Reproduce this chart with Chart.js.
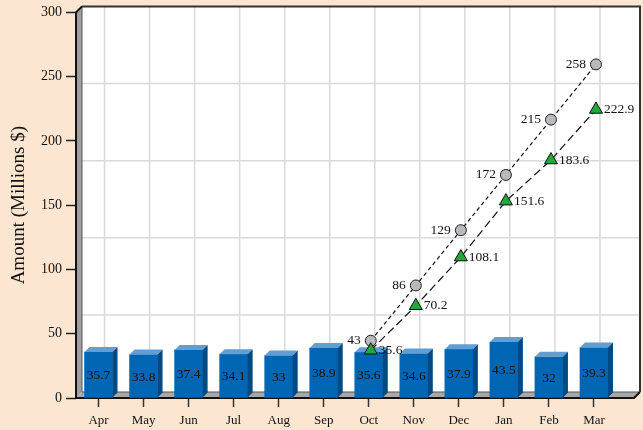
<!DOCTYPE html>
<html>
<head>
<meta charset="utf-8">
<script src="https://cdn.jsdelivr.net/npm/chart.js@4.4.1/dist/chart.umd.min.js"></script>
<style>
  html, body { margin: 0; padding: 0; background: #fde6d1; }
  #wrap { width: 643px; height: 430px; }
</style>
</head>
<body>
<div id="wrap"><canvas id="chart" width="643" height="430"></canvas></div>
<script>
const months = ['Apr', 'May', 'Jun', 'Jul', 'Aug', 'Sep', 'Oct', 'Nov', 'Dec', 'Jan', 'Feb', 'Mar'];
const monthlyAmounts = [35.7, 33.8, 37.4, 34.1, 33, 38.9, 35.6, 34.6, 37.9, 43.5, 32, 39.3];
const targetCumulative = [null, null, null, null, null, null, 43, 86, 129, 172, 215, 258];
const actualCumulative = [null, null, null, null, null, null, 35.6, 70.2, 108.1, 151.6, 183.6, 222.9];
const yTicks = [0, 50, 100, 150, 200, 250, 300];

const FONT = '"Liberation Serif", "DejaVu Serif", serif';
const WALL = 6;      // depth of back wall
const BAR_D = 5;     // depth of bars
const LINE_D = 2;    // lines sit a little inside the box
const EXTRA_RIGHT = 17.5;

// walls, floor and back grid
const wallPlugin = {
    id: 'walls',
    beforeDatasetsDraw(chart) {
        const ctx = chart.ctx;
        const a = chart.chartArea;
        const x = chart.scales.x;
        const L = a.left, T = a.top, B = a.bottom, R = a.right + EXTRA_RIGHT;
        ctx.save();
        // back wall
        ctx.fillStyle = '#ffffff';
        ctx.fillRect(L + WALL, T - WALL, R - L, B - T);
        // back grid
        ctx.strokeStyle = '#d9d9d9';
        ctx.lineWidth = 1.5;
        for (let i = 1; i < 5; i++) {
            const gy = T - WALL + (B - T) * i / 5;
            ctx.beginPath();
            ctx.moveTo(L + WALL, gy);
            ctx.lineTo(R + WALL, gy);
            ctx.stroke();
        }
        months.forEach((m, i) => {
            const gx = x.getPixelForValue(i) + WALL;
            ctx.beginPath();
            ctx.moveTo(gx, T - WALL);
            ctx.lineTo(gx, B - WALL);
            ctx.stroke();
        });
        // back wall border top/right
        ctx.strokeStyle = '#333333';
        ctx.lineWidth = 2;
        ctx.beginPath();
        ctx.moveTo(L + WALL, T - WALL);
        ctx.lineTo(R + WALL, T - WALL);
        ctx.lineTo(R + WALL, B - WALL);
        ctx.stroke();
        // left wall
        ctx.fillStyle = '#9e9e9e';
        ctx.beginPath();
        ctx.moveTo(L, T);
        ctx.lineTo(L + WALL, T - WALL);
        ctx.lineTo(L + WALL, B - WALL);
        ctx.lineTo(L, B);
        ctx.closePath();
        ctx.fill();
        ctx.strokeStyle = '#555555';
        ctx.lineWidth = 1;
        ctx.beginPath();
        ctx.moveTo(L + WALL, T - WALL);
        ctx.lineTo(L + WALL, B - WALL);
        ctx.stroke();
        // floor
        ctx.fillStyle = '#a8a8a8';
        ctx.beginPath();
        ctx.moveTo(L, B);
        ctx.lineTo(L + WALL, B - WALL);
        ctx.lineTo(R + WALL, B - WALL);
        ctx.lineTo(R, B);
        ctx.closePath();
        ctx.fill();
        ctx.strokeStyle = '#555555';
        ctx.beginPath();
        ctx.moveTo(L + WALL, B - WALL);
        ctx.lineTo(R + WALL, B - WALL);
        ctx.stroke();
        // front edges
        ctx.strokeStyle = '#111111';
        ctx.lineWidth = 2;
        ctx.beginPath();
        ctx.moveTo(L + WALL, T - WALL);
        ctx.lineTo(L, T);
        ctx.lineTo(L, B);
        ctx.lineTo(R, B);
        ctx.lineTo(R + WALL, B - WALL);
        ctx.stroke();
        ctx.restore();
    },
    beforeDatasetDraw(chart, args) {
        if (args.index === 0) return;
        chart.ctx.save();
        chart.ctx.translate(LINE_D, -LINE_D);
    },
    afterDatasetDraw(chart, args) {
        const ctx = chart.ctx;
        if (args.index !== 0) {
            ctx.restore();
            return;
        }
        const meta = chart.getDatasetMeta(0);
        ctx.save();
        meta.data.forEach((bar, i) => {
            const p = bar.getProps(['x', 'y', 'base', 'width'], true);
            const l = p.x - p.width / 2, r = p.x + p.width / 2;
            // top face
            ctx.fillStyle = '#5f9fd4';
            ctx.beginPath();
            ctx.moveTo(l, p.y);
            ctx.lineTo(r, p.y);
            ctx.lineTo(r + BAR_D, p.y - BAR_D);
            ctx.lineTo(l + BAR_D, p.y - BAR_D);
            ctx.closePath();
            ctx.fill();
            // side face
            ctx.fillStyle = '#004a84';
            ctx.beginPath();
            ctx.moveTo(r, p.y);
            ctx.lineTo(r + BAR_D, p.y - BAR_D);
            ctx.lineTo(r + BAR_D, p.base - BAR_D);
            ctx.lineTo(r, p.base);
            ctx.closePath();
            ctx.fill();
        });
        ctx.restore();
    },
    afterDatasetsDraw(chart) {
        const ctx = chart.ctx;
        ctx.save();
        ctx.font = '13.5px ' + FONT;
        ctx.fillStyle = '#111111';
        ctx.textBaseline = 'middle';
        // bar labels
        ctx.textAlign = 'center';
        chart.getDatasetMeta(0).data.forEach((bar, i) => {
            const p = bar.getProps(['x', 'y', 'base'], true);
            ctx.fillText(String(monthlyAmounts[i]), p.x, (p.y + p.base) / 2 + 1);
        });
        // target labels (left)
        ctx.textAlign = 'right';
        chart.getDatasetMeta(1).data.forEach((pt, i) => {
            if (targetCumulative[i] === null) return;
            ctx.fillText(String(targetCumulative[i]), pt.x + LINE_D - 10, pt.y - LINE_D);
        });
        // actual labels (right)
        ctx.textAlign = 'left';
        chart.getDatasetMeta(2).data.forEach((pt, i) => {
            if (actualCumulative[i] === null) return;
            ctx.fillText(String(actualCumulative[i]), pt.x + LINE_D + 8, pt.y - LINE_D);
        });
        ctx.restore();
    }
};

new Chart(document.getElementById('chart'), {
    data: {
        labels: months,
        datasets: [
            {
                type: 'bar',
                data: monthlyAmounts,
                backgroundColor: '#0066b4',
                borderWidth: 0,
                barThickness: 28,
                order: 3
            },
            {
                type: 'line',
                data: targetCumulative,
                borderColor: '#111111',
                borderWidth: 1.2,
                borderDash: [4, 3],
                pointStyle: 'circle',
                pointRadius: 5.5,
                pointBackgroundColor: '#b9b9bd',
                pointBorderColor: '#222222',
                pointBorderWidth: 1,
                order: 2
            },
            {
                type: 'line',
                data: actualCumulative,
                borderColor: '#111111',
                borderWidth: 1.2,
                borderDash: [8, 4],
                pointStyle: 'triangle',
                pointRadius: 7.5,
                pointBackgroundColor: '#22a83a',
                pointBorderColor: '#111111',
                pointBorderWidth: 1,
                order: 1
            }
        ]
    },
    options: {
        responsive: false,
        animation: false,
        layout: { padding: { top: 11, right: 643 - 616.5, left: 0, bottom: 0 } },
        plugins: {
            legend: { display: false },
            tooltip: { enabled: false }
        },
        scales: {
            x: {
                offset: true,
                grid: {
                    offset: false,
                    drawOnChartArea: false,
                    drawTicks: true,
                    tickLength: 9,
                    tickWidth: 1.5,
                    tickColor: '#333333'
                },
                border: { display: false },
                ticks: {
                    font: { family: FONT, size: 13 },
                    color: '#111111',
                    padding: 6,
                    maxRotation: 0
                },
                afterFit(scale) { scale.height = 32; }
            },
            y: {
                min: 0,
                max: 300,
                afterBuildTicks(scale) { scale.ticks = yTicks.map(v => ({ value: v })); },
                grid: {
                    drawOnChartArea: false,
                    drawTicks: true,
                    tickLength: 10,
                    tickWidth: 1.5,
                    tickColor: '#222222'
                },
                border: { display: false },
                ticks: {
                    font: { family: FONT, size: 14 },
                    color: '#111111',
                    padding: 4
                },
                title: {
                    display: true,
                    text: 'Amount (Millions $)',
                    font: { family: FONT, size: 19 },
                    color: '#111111',
                    padding: { top: 8, bottom: 0 }
                },
                afterFit(scale) { scale.width = 76; }
            }
        }
    },
    plugins: [wallPlugin]
});
</script>
</body>
</html>
